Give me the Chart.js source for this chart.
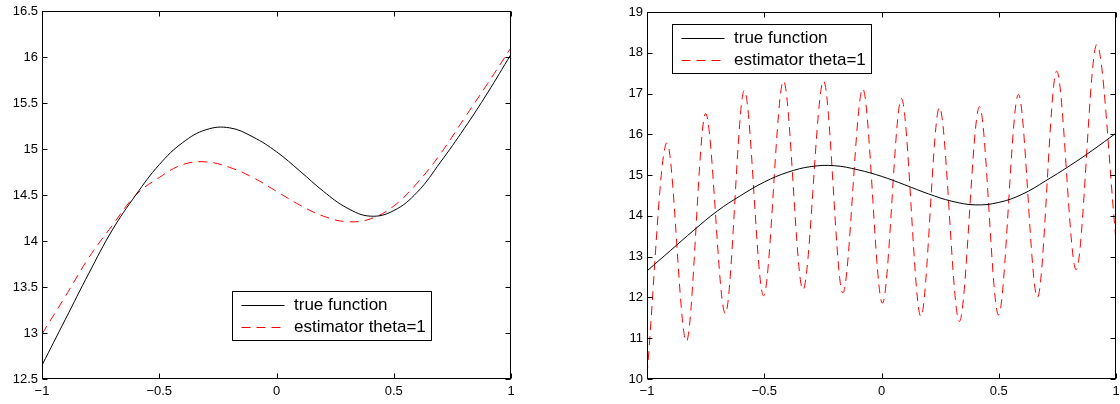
<!DOCTYPE html>
<html><head><meta charset="utf-8">
<script src="https://cdn.jsdelivr.net/npm/chart.js@4/dist/chart.umd.min.js"></script>
<style>
html,body{margin:0;padding:0;background:#fff;}
#wrap{position:relative;width:1120px;height:404px;overflow:hidden;}
.pane{position:absolute;top:0;width:560px;height:404px;}
</style></head><body>
<div id="wrap">
<div class="pane" style="left:0"><canvas id="c1" width="560" height="404"></canvas></div>
<div class="pane" style="left:560px"><canvas id="c2" width="560" height="404"></canvas></div>
</div>
<script>
// ---- data ----
const seriesNames = ['true function', 'estimator theta=1'];
const xTicks = [-1, -0.5, 0, 0.5, 1];
const xTickLabels = ['\u22121', '\u22120.5', '0', '0.5', '1'];
const yTicksLeft = [12.5, 13, 13.5, 14, 14.5, 15, 15.5, 16, 16.5];
const yTickLabelsLeft = ['12.5', '13', '13.5', '14', '14.5', '15', '15.5', '16', '16.5'];
const yTicksRight = [10, 11, 12, 13, 14, 15, 16, 17, 18, 19];
const yTickLabelsRight = ['10', '11', '12', '13', '14', '15', '16', '17', '18', '19'];

const xGrid = [-1, -0.9, -0.8, -0.7, -0.6, -0.5, -0.4, -0.3, -0.2, -0.1, 0, 0.1, 0.2, 0.3, 0.4, 0.5, 0.6, 0.7, 0.8, 0.9, 1];
const trueFunction = [12.65, 13.15, 13.65, 14.12, 14.50, 14.83, 15.07, 15.21, 15.23, 15.13, 14.97, 14.76, 14.54, 14.36, 14.27, 14.33, 14.53, 14.86, 15.22, 15.61, 16.03];
const estimatorLeft = [12.99, 13.40, 13.82, 14.17, 14.50, 14.69, 14.83, 14.86, 14.80, 14.69, 14.54, 14.39, 14.27, 14.21, 14.24, 14.38, 14.63, 14.95, 15.33, 15.71, 16.10];

const estimatorRightX = [-1, -0.915, -0.832, -0.75, -0.666, -0.585, -0.503, -0.418, -0.335, -0.247, -0.165, -0.08, 0.004, 0.085, 0.168, 0.247, 0.332, 0.418, 0.499, 0.584, 0.665, 0.747, 0.83, 0.918, 1];
const estimatorRightY = [10.1, 15.79, 10.92, 16.51, 11.6, 17.08, 12.04, 17.31, 12.19, 17.31, 12.11, 17.12, 11.86, 16.88, 11.53, 16.66, 11.41, 16.68, 11.57, 16.98, 12.0, 17.55, 12.68, 18.2, 13.41];

// ---- helpers ----
const FONT = "'Liberation Sans', Arial, Helvetica, sans-serif";
const toPts = (xs, ys) => xs.map((x, i) => ({x: x, y: ys[i]}));
const DASH = [9, 6];

const matlabAxes = {
  id: 'matlabAxes',
  afterDraw(chart, args, opts) {
    const {ctx, chartArea: a, scales: {x, y}} = chart;
    ctx.save();
    ctx.strokeStyle = '#000';
    ctx.lineWidth = 1;
    const L = Math.round(a.left) + 0.5, R = Math.round(a.right) - 0.5;
    const T = Math.round(a.top) + 0.5, B = Math.round(a.bottom) - 0.5;
    ctx.strokeRect(L, T, R - L, B - T);
    const tl = 5;
    ctx.beginPath();
    x.ticks.forEach(t => {
      const p = Math.round(x.getPixelForValue(t.value)) + 0.5;
      ctx.moveTo(p, B); ctx.lineTo(p, B - tl);
      ctx.moveTo(p, T); ctx.lineTo(p, T + tl);
    });
    y.ticks.forEach(t => {
      const p = Math.round(y.getPixelForValue(t.value)) + 0.5;
      ctx.moveTo(L, p); ctx.lineTo(L + tl, p);
      ctx.moveTo(R, p); ctx.lineTo(R - tl, p);
    });
    ctx.stroke();

    // legend box
    const bx = Math.round(a.left + opts.dx) + 0.5, by = Math.round(a.top + opts.dy) + 0.5;
    const bw = 199, bh = 49;
    ctx.fillStyle = '#fff';
    ctx.fillRect(bx, by, bw, bh);
    ctx.strokeStyle = '#000';
    ctx.lineWidth = 1;
    ctx.strokeRect(bx, by, bw, bh);
    const rows = [by + 13.5, by + 35.5];
    const ds = chart.data.datasets;
    ds.forEach((d, i) => {
      ctx.beginPath();
      ctx.strokeStyle = d.borderColor;
      ctx.lineWidth = 1;
      ctx.setLineDash(d.borderDash || []);
      ctx.moveTo(bx + 9, Math.round(rows[i]) + 0.5);
      ctx.lineTo(bx + 52, Math.round(rows[i]) + 0.5);
      ctx.stroke();
      ctx.setLineDash([]);
      ctx.fillStyle = '#000';
      ctx.font = '17px ' + FONT;
      ctx.textBaseline = 'middle';
      ctx.textAlign = 'left';
      ctx.fillText(d.label, bx + 61.5, rows[i]);
    });
    ctx.restore();
  }
};

function makeChart(id, datasets, yMin, yMax, yTicks, yLabels, yWidth, padRight, padTop, legendPos) {
  return new Chart(document.getElementById(id), {
    type: 'line',
    data: {datasets: datasets},
    plugins: [matlabAxes],
    options: {
      responsive: false,
      animation: false,
      devicePixelRatio: 1,
      layout: {padding: {left: 0, right: padRight, top: padTop, bottom: 0}},
      elements: {point: {radius: 0}},
      plugins: {legend: {display: false}, tooltip: {enabled: false}, matlabAxes: legendPos},
      scales: {
        x: {
          type: 'linear', min: -1, max: 1,
          afterBuildTicks: s => { s.ticks = xTicks.map(v => ({value: v})); },
          afterFit: s => { s.height = 25; s.paddingLeft = 0; s.paddingRight = 0; },
          grid: {display: false, drawTicks: false},
          border: {display: false},
          ticks: {
            padding: 5, color: '#000', maxRotation: 0, autoSkip: false,
            font: {family: FONT, size: 13},
            callback: (v, i) => xTickLabels[i]
          }
        },
        y: {
          type: 'linear', min: yMin, max: yMax,
          afterBuildTicks: s => { s.ticks = yTicks.map(v => ({value: v})); },
          afterFit: s => { s.width = yWidth; s.paddingTop = 0; s.paddingBottom = 0; },
          grid: {display: false, drawTicks: false},
          border: {display: false},
          ticks: {
            padding: 4, color: '#000', autoSkip: false,
            font: {family: FONT, size: 13},
            callback: (v, i) => yLabels[i]
          }
        }
      }
    }
  });
}

const blackStyle = {borderColor: '#000000', borderWidth: 1, fill: false, tension: 0.4, pointRadius: 0};
const redSmooth = {borderColor: '#ff0000', borderWidth: 1, fill: false, tension: 0.4, pointRadius: 0, borderDash: DASH};
const redWave = {borderColor: '#ff0000', borderWidth: 1, fill: false, cubicInterpolationMode: 'monotone', pointRadius: 0, borderDash: DASH};

makeChart('c1', [
  Object.assign({label: seriesNames[0], data: toPts(xGrid, trueFunction)}, blackStyle),
  Object.assign({label: seriesNames[1], data: toPts(xGrid, estimatorLeft)}, redSmooth)
], 12.5, 16.5, yTicksLeft, yTickLabelsLeft, 42, 49, 11, {dx: 190, dy: 280});

makeChart('c2', [
  Object.assign({label: seriesNames[0], data: toPts(xGrid, trueFunction)}, blackStyle),
  Object.assign({label: seriesNames[1], data: toPts(estimatorRightX, estimatorRightY)}, redWave)
], 10, 19, yTicksRight, yTickLabelsRight, 87, 4, 12, {dx: 25, dy: 12});
</script>
</body></html>
